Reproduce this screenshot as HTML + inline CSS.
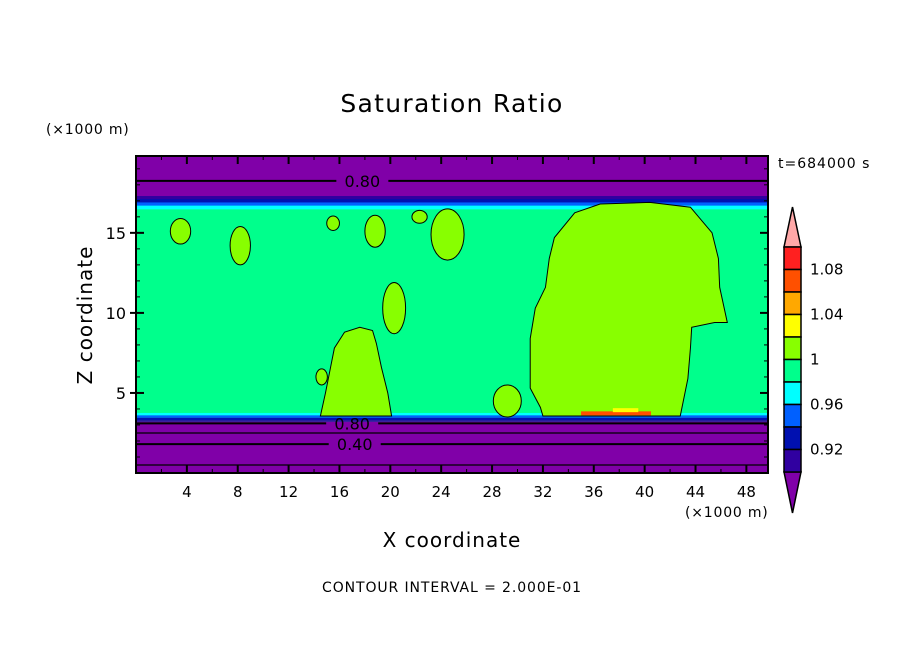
<!DOCTYPE html>
<html><head><meta charset="utf-8"><style>
body{margin:0;background:#fff;width:904px;height:654px;overflow:hidden}
text{font-family:"DejaVu Sans","Liberation Sans",sans-serif;fill:#000}
</style></head><body>
<svg id="chart" width="904" height="654" viewBox="0 0 904 654">
<defs><clipPath id="pc"><rect x="136" y="156" width="632" height="317"/></clipPath></defs>
<text x="452" y="112" text-anchor="middle" font-size="25" letter-spacing="1.3">Saturation Ratio</text>
<text x="46" y="134" font-size="14" letter-spacing="0.8">(×1000 m)</text>
<text x="778" y="168" font-size="14" letter-spacing="1">t=684000 s</text>
<text transform="translate(92,315) rotate(-90)" text-anchor="middle" font-size="20" letter-spacing="1">Z coordinate</text>
<text x="452" y="547" text-anchor="middle" font-size="20" letter-spacing="1">X coordinate</text>
<text x="685" y="517" font-size="14" letter-spacing="0.8">(×1000 m)</text>
<text x="452" y="592" text-anchor="middle" font-size="14" letter-spacing="0.9">CONTOUR INTERVAL = 2.000E-01</text>
<g id="plot" clip-path="url(#pc)"></g>
<g id="axes"></g>
<g id="cbar"></g>
</svg>
<script>
const xTicks=[4,8,12,16,20,24,28,32,36,40,44,48];
const zTicks=[5,10,15];
const bandTop=[19.9,17.3,17.1,16.9,16.7,16.5];
const bandColors=["#8000a8","#3000a0","#0010b0","#0060ff","#00ffff"];
const lowBands=[3.75,3.6,3.45,3.3,3.2];
const lowColors=["#00ffff","#0060ff","#0010b0","#3000a0","#8000a8"];
const contourZ=[18.25,3.1,2.5,1.8,0.5];
const contourLabels=["0.80","0.80","","0.40",""];
const contourLabelX=[17.8,17,0,17.2,0];
const bigCloud=[[32,3.56],[42.8,3.56],[43.4,5.9],[43.6,7.8],[43.7,9.1],[45.5,9.4],[46.5,9.4],[45.9,11.6],[45.8,13.4],[45.3,15],[43.6,16.6],[40.4,16.9],[36.5,16.8],[34.5,16.25],[32.9,14.7],[32.5,13.4],[32.2,11.6],[31.4,10.3],[31,8.4],[31,5.3],[31.8,4.1]];
const midCloud=[[14.5,3.56],[20.1,3.56],[19.8,5],[19.3,6.6],[18.9,8.1],[18.6,8.9],[17.6,9.1],[16.4,8.8],[15.6,7.8],[15.3,6.6],[14.9,5]];
const smallClouds=[[3.5,15.1,0.8,0.8],[8.2,14.2,0.8,1.2],[18.8,15.1,0.8,1.0],[15.5,15.6,0.5,0.45],[22.3,16.0,0.6,0.4],[24.5,14.9,1.3,1.6],[29.2,4.5,1.1,1.0],[14.6,6.0,0.45,0.5],[20.3,10.3,0.9,1.6]];
const cbColors=["#ff2020","#ff5000","#ffa800","#ffff00","#88ff00","#00ff8c","#00ffff","#0060ff","#0010b0","#3000a0"];
const cbLabels=["1.08","1.04","1","0.96","0.92"];
const cbLabelIdx=[1,3,5,7,9];

const NS="http://www.w3.org/2000/svg";
const X0=136,X1=768,Y0=473,Y1=156,XMAX=49.7,ZMAX=19.8;
const sx=v=>X0+v*(X1-X0)/XMAX;
const sz=v=>Y0-v*(Y0-Y1)/ZMAX;
function mk(tag,attrs,parent){const e=document.createElementNS(NS,tag);for(const k in attrs)e.setAttribute(k,attrs[k]);parent.appendChild(e);return e;}
const plot=document.getElementById('plot'),axes=document.getElementById('axes'),cb=document.getElementById('cbar');

let r=mk('rect',{x:X0,y:Y1,width:X1-X0,height:Y0-Y1,fill:"#00ff8c"},plot);


for(let i=0;i<bandColors.length;i++){
  const b=mk('rect',{x:X0,y:sz(bandTop[i]),width:X1-X0,height:sz(bandTop[i+1])-sz(bandTop[i])+0.5,fill:bandColors[i]},plot);
  
  
}
for(let i=0;i<lowColors.length;i++){
  const z2=i<lowBands.length-1?lowBands[i+1]:0;
  const b=mk('rect',{x:X0,y:sz(lowBands[i]),width:X1-X0,height:sz(z2)-sz(lowBands[i]),fill:lowColors[i]},plot);
  
  
}
function poly(pts,name){
  const p=mk('polygon',{points:pts.map(q=>sx(q[0])+','+sz(q[1])).join(' '),fill:"#88ff00",stroke:"#000","stroke-width":1},plot);
  
  
}
poly(bigCloud,'large-supersaturated-region');
poly(midCloud,'mid-supersaturated-region');
smallClouds.forEach(c=>{
  const e=mk('ellipse',{cx:sx(c[0]),cy:sz(c[1]),rx:c[2]*(X1-X0)/XMAX,ry:c[3]*(Y0-Y1)/ZMAX,fill:"#88ff00",stroke:"#000","stroke-width":1},plot);
  
  
});
let hs=mk('rect',{x:sx(35),y:sz(3.85),width:sx(40.5)-sx(35),height:4,fill:"#ff5000"},plot);


let hs2=mk('rect',{x:sx(37.5),y:sz(4.05),width:sx(39.5)-sx(37.5),height:4,fill:"#ffff00"},plot);


for(let i=0;i<contourZ.length;i++){
  const y=sz(contourZ[i]);
  const w=contourLabels[i]?2:1.2;
  if(contourLabels[i]){
    const lx=sx(contourLabelX[i]);
    const l1=mk('line',{x1:X0,y1:y,x2:lx-26,y2:y,stroke:"#000","stroke-width":w},plot);
    
    
    const l2=mk('line',{x1:lx+26,y1:y,x2:X1,y2:y,stroke:"#000","stroke-width":w},plot);
    
    
    const t=mk('text',{x:lx,y:y+6,"text-anchor":"middle","font-size":"16"},plot);
    t.textContent=contourLabels[i];
    
    
  } else {
    const l=mk('line',{x1:X0,y1:y,x2:X1,y2:y,stroke:"#000","stroke-width":w},plot);
    
    
  }
}
let fr=mk('rect',{x:X0,y:Y1,width:X1-X0,height:Y0-Y1,fill:"none",stroke:"#000","stroke-width":2},axes);


for(let v=2;v<XMAX;v+=2){
  const maj=v%4===0,L=maj?8:4,x=sx(v);
  mk('line',{x1:x,y1:Y0,x2:x,y2:Y0-L,stroke:"#000","stroke-width":maj?2:1},axes);
  mk('line',{x1:x,y1:Y1,x2:x,y2:Y1+L,stroke:"#000","stroke-width":maj?2:1},axes);
}
xTicks.forEach(v=>{
  const t=mk('text',{x:sx(v),y:Y0+24,"text-anchor":"middle","font-size":"15"},axes);
  t.textContent=v;
  
  
});
for(let v=1;v<ZMAX;v++){
  const maj=v%5===0,L=maj?8:4,y=sz(v);
  mk('line',{x1:X0,y1:y,x2:X0+L,y2:y,stroke:"#000","stroke-width":maj?2:1},axes);
  mk('line',{x1:X1,y1:y,x2:X1-L,y2:y,stroke:"#000","stroke-width":maj?2:1},axes);
  if(maj) mk('line',{x1:X0,y1:y,x2:X0-6,y2:y,stroke:"#000","stroke-width":2},axes);
}
zTicks.forEach(v=>{
  const t=mk('text',{x:X0-10,y:sz(v)+6,"text-anchor":"end","font-size":"16"},axes);
  t.textContent=v;
  
  
});
const CX=784,CW=17,CT=247,CB=472,bh=(CB-CT)/cbColors.length;
let tt=mk('polygon',{points:`${CX},${CT} ${CX+CW/2},207 ${CX+CW},${CT}`,fill:"#ffa8a8",stroke:"#000","stroke-width":1.5},cb);


let bt=mk('polygon',{points:`${CX},${CB} ${CX+CW/2},513 ${CX+CW},${CB}`,fill:"#8000a8",stroke:"#000","stroke-width":1.5},cb);


cbColors.forEach((c,i)=>{
  const b=mk('rect',{x:CX,y:CT+i*bh,width:CW,height:bh,fill:c,stroke:"#000","stroke-width":1.5},cb);
  
  
});
cbLabels.forEach((s,i)=>{
  const t=mk('text',{x:810,y:CT+cbLabelIdx[i]*bh+5,"font-size":"15"},cb);
  t.textContent=s;
  
  
});
</script>
</body></html>
